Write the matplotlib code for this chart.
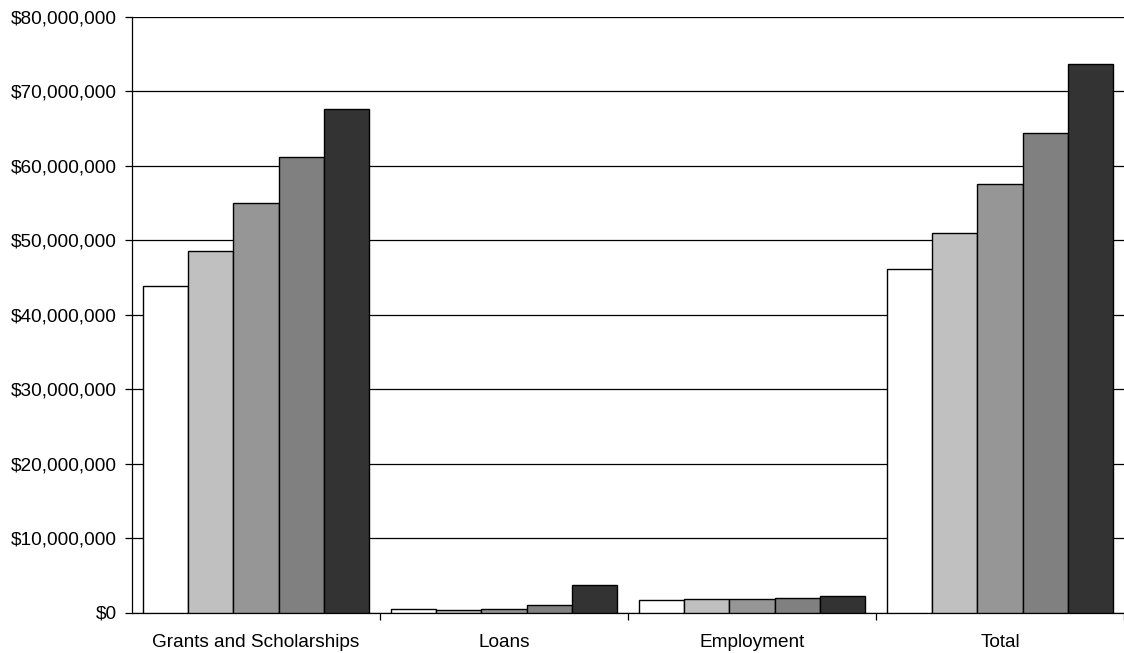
import matplotlib
matplotlib.use("Agg")
import matplotlib.pyplot as plt
import numpy as np
from matplotlib.ticker import FuncFormatter, MultipleLocator

plt.rcParams['font.family'] = ['Liberation Sans', 'DejaVu Sans']

categories = ["Grants and Scholarships", "Loans", "Employment", "Total"]
series_1 = [43.8e6, 0.50e6, 1.70e6, 46.1e6]
series_2 = [48.6e6, 0.38e6, 1.84e6, 51.0e6]
series_3 = [55.0e6, 0.50e6, 1.86e6, 57.6e6]
series_4 = [61.2e6, 1.07e6, 2.00e6, 64.4e6]
series_5 = [67.6e6, 3.76e6, 2.15e6, 73.7e6]
series = [series_1, series_2, series_3, series_4, series_5]
colors = ["#FFFFFF", "#C0C0C0", "#969696", "#808080", "#333333"]

fig = plt.figure(figsize=(11.24, 6.53), dpi=100)
ax = fig.add_axes([132/1124, 1 - 612.5/653, 1 - 132/1124, (612.5 - 17)/653])

x = np.arange(len(categories))
bw = 0.183
for i, (vals, c) in enumerate(zip(series, colors)):
    ax.bar(x + (i - 2) * bw, vals, width=bw, color=c, edgecolor="black",
           linewidth=1.0, zorder=3)

ax.set_ylim(0, 80e6)
ax.set_xlim(-0.5, -0.5 + (1124 - 132) / 249.7)
ax.yaxis.set_major_locator(MultipleLocator(10e6))
ax.yaxis.set_major_formatter(FuncFormatter(lambda v, p: "${:,.0f}".format(v)))
ax.grid(axis="y", color="black", linewidth=0.9, zorder=0)
ax.set_axisbelow(True)

fs = 13.7
ax.set_xticks(x)
ax.set_xticklabels(categories)
ax.set_xticks(np.arange(len(categories)) + 0.5, minor=True)
ax.tick_params(axis="x", which="major", length=0, pad=15.5, labelsize=fs)
ax.tick_params(axis="x", which="minor", length=5, direction="out", width=0.9)
ax.tick_params(axis="y", length=5, direction="out", width=0.9, labelsize=fs, pad=6)

for s in ["top", "right"]:
    ax.spines[s].set_visible(False)
ax.spines["left"].set_linewidth(0.9)
ax.spines["bottom"].set_linewidth(0.9)

fig.savefig("out.png", dpi=100)
